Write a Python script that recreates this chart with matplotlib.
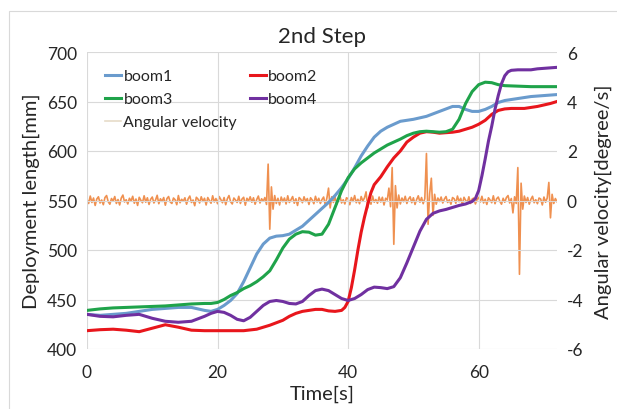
import matplotlib
matplotlib.use("Agg")
import matplotlib.pyplot as plt
from matplotlib.patches import Rectangle

plt.rcParams['font.family'] = ['Lato', 'DejaVu Sans']
plt.rcParams['axes.unicode_minus'] = False

# ---------------- data ----------------
t_boom1 = [0, 2, 4, 6, 8, 10, 12, 14, 16, 18, 19, 20, 21, 22, 23, 24, 25, 26, 27, 28, 29, 30, 31, 32, 33, 34, 35, 36,
           37, 38, 39, 40, 41, 42, 43, 44, 45, 46, 47, 48, 50, 52, 54, 56, 57, 58, 59, 60, 61, 62, 63, 64, 66, 68, 70, 72]
boom1 = [435, 434, 435, 436, 438, 440, 441, 442, 442, 439, 438, 440, 444, 449, 456, 468, 482, 496, 506, 512, 514,
         514.5, 516, 520, 524, 530, 536, 542, 548, 555, 563, 572, 583, 595, 605, 614, 620, 624, 627, 630, 632, 635,
         640, 645, 645, 642, 640, 640, 642, 645, 649, 651, 653, 655, 656, 657]

t_boom3 = [0, 2, 4, 6, 8, 10, 12, 14, 16, 18, 19, 20, 21, 22, 23, 24, 25, 26, 27, 28, 29, 30, 31, 32, 33, 34, 35, 36,
           37, 38, 39, 40, 41, 42, 43, 44, 45, 46, 47, 48, 49, 50, 51, 52, 53, 54, 55, 56, 57, 58, 59, 60, 61, 62, 63,
           64, 66, 68, 70, 72]
boom3 = [439, 440.5, 441.5, 442, 442.5, 443, 443.5, 444.5, 445.5, 446, 446, 447, 450, 454, 457, 461, 464, 468, 473,
         479, 490, 502, 511, 516, 518.5, 518, 515, 516, 526, 543, 560, 573, 582, 588, 593, 598, 602, 606, 609, 612,
         615.5, 618, 619.5, 620, 619.5, 619, 619.5, 622, 632, 648, 660, 667, 669.5, 669, 667, 666, 665.5, 665, 665, 665]

t_boom2 = [0, 2, 4, 6, 8, 10, 12, 14, 16, 18, 20, 22, 24, 26, 28, 29, 30, 31, 32, 33, 34, 35, 36, 37, 38, 39, 39.5,
           40, 40.5, 41, 41.5, 42, 42.5, 43, 43.5, 44, 45, 46, 47, 48, 49, 50, 51, 52, 53, 54, 55, 56, 57, 58, 59, 60,
           61, 62, 63, 64, 65, 66, 67, 68, 69, 70, 71, 72]
boom2 = [418.5, 419.5, 420, 419, 417.5, 421, 424.5, 422, 419, 418.5, 418.5, 418.5, 418.5, 420, 424, 426.5, 429, 433,
         436, 438, 439, 440, 440, 438.5, 438, 439, 442, 448, 462, 480, 500, 518, 533, 546, 558, 566, 574, 584, 593,
         600, 609, 614, 618, 619.5, 619, 618, 618.5, 619, 620, 622, 624, 627, 631, 637, 641, 642.5, 643, 643, 643,
         644, 645, 646.5, 648, 650]

t_boom4 = [0, 2, 4, 6, 8, 10, 12, 14, 16, 18, 19, 20, 21, 22, 23, 24, 25, 26, 27, 28, 29, 30, 31, 32, 33, 34, 35, 36,
           37, 38, 39, 40, 41, 42, 43, 44, 45, 46, 47, 48, 49, 50, 51, 52, 53, 54, 55, 56, 57, 58, 59, 59.5, 60, 60.5,
           61, 61.5, 62, 62.5, 63, 63.5, 64, 64.5, 65, 66, 67, 68, 69, 70, 71, 72]
boom4 = [435, 433, 432.5, 434, 435, 431, 428, 427, 428, 433, 436, 438, 437, 434, 430, 428.5, 432, 438, 444, 448, 449,
         448, 446, 445.5, 448, 454, 459, 460.5, 459, 455, 451, 449, 451, 455, 460, 462.5, 462, 461, 463, 472, 487,
         503, 519, 531, 537, 539.5, 541, 543, 545, 546.5, 549, 552, 560, 575, 592, 610, 625, 642, 656, 668, 676, 680,
         681.5, 682, 682, 682, 683, 683.5, 684, 684.5]

# angular velocity sampled every 0.25 s from 0 to 72 s
av_step = 0.25
angular_velocity = [
    0.05, -0.12, 0.18, -0.08, 0.10, -0.20, 0.06, 0.15, -0.10, 0.02, -0.17, 0.12, 0.20, -0.05, -0.15, 0.08, -0.02, 0.16, -0.12, 0.04,
    -0.18, 0.10, 0.22, -0.06, 0.03, -0.14, 0.09, -0.02, 0.17, -0.11, 0.06, -0.20, 0.13, 0.01, -0.09, 0.19, -0.07, 0.11, -0.16, 0.05,
    0.14, -0.10, 0.02, 0.21, -0.13, 0.07, -0.04, 0.12, -0.19, 0.08, 0.16, -0.06, -0.12, 0.10, 0.03, -0.17, 0.20, -0.09, 0.05, -0.03,
    0.11, -0.15, 0.07, 0.18, -0.08, 0.02, -0.21, 0.13, 0.06, -0.10, 0.15, -0.04, 0.09, -0.18, 0.12, 0.00, -0.11, 0.19, -0.06, 0.08,
    -0.13, 0.16, 0.04, -0.09, 0.12, -0.17, 0.07, 0.20, -0.05, -0.14, 0.10, 0.02, -0.08, 0.17, -0.12, 0.06, 0.13, -0.19, 0.09, -0.02,
    0.15, -0.07, 0.11, -0.15, 0.04, 0.18, -0.10, 0.07, -0.03, 0.12, -0.16, 1.47, -1.16, 0.55, -0.35, 0.20, -0.12, 0.09, -0.18, 0.14,
    -0.05, 0.10, -0.14, 0.19, -0.08, 0.03, 0.16, -0.11, 0.07, -0.20, 0.12, 0.05, -0.09, 0.15, -0.04, 0.08, -0.16, 0.11, 0.02, -0.13,
    0.17, -0.06, 0.09, -0.12, 0.04, 0.14, -0.18, 0.10, 0.50, -0.30, 0.15, -0.08, 0.13, -0.15, 0.06, 0.19, -0.10, 0.03, -0.14, 0.11,
    0.07, -0.17, 0.12, -0.04, 0.20, -0.09, 0.05, -0.13, 0.16, -0.02, 0.10, 0.35, -0.30, 0.08, -0.15, 0.18, -0.07, 0.04, -0.11, 0.14,
    -0.06, 0.13, -0.18, 0.09, 0.02, 0.50, -0.25, 1.33, -1.77, 0.60, -0.30, 0.22, -0.14, 0.10, -0.05, 0.17, -0.12, 0.06, 0.15, -0.09,
    0.11, -0.16, 0.04, 0.19, -0.07, 0.12, -0.13, 0.08, 1.90, -0.96, 0.30, 0.90, -0.60, 0.25, -0.15, 0.10, -0.04, 0.14, -0.10, 0.06,
    0.16, -0.08, 0.03, -0.15, 0.12, 0.07, -0.11, 0.18, -0.05, 0.09, -0.17, 0.13, 0.01, -0.08, 0.15, -0.12, 0.06, 0.10, -0.14, 0.04,
    0.13, -0.06, 0.17, -0.10, 0.05, -0.16, 0.11, 0.02, -0.09, 0.19, -0.13, 0.07, 0.14, -0.04, -0.15, 0.09, -0.07, 0.12, 0.20, -0.10,
    0.08, -0.50, 0.15, -0.12, 1.33, -2.98, 0.70, -0.35, 0.18, -0.08, 0.12, -0.15, 0.05, 0.17, -0.09, 0.03, -0.13, 0.10, 0.06, -0.18,
    0.14, -0.07, 0.10, 0.73, -0.70, 0.25, -0.12, 0.08, -0.05,
]
t_av = [i * av_step for i in range(len(angular_velocity))]

x_ticks = [0, 20, 40, 60]
y_left_ticks = [400, 450, 500, 550, 600, 650, 700]
y_right_ticks = [-6, -4, -2, 0, 2, 4, 6]

# ---------------- figure ----------------
fig = plt.figure(figsize=(6.17, 4.10), dpi=100)
fig.patches.append(Rectangle((9 / 617, -0.01), 1.0, 0.9707 + 0.01, transform=fig.transFigure,
                             fill=False, edgecolor='#D9D9D9', linewidth=0.8, zorder=0))

ax = fig.add_axes([87 / 617, 1 - 350 / 410, (557 - 87) / 617, (350 - 53) / 410])
ax2 = ax.twinx()

grid_c = '#D9D9D9'
txt_c = '#262626'

h_av, = ax2.plot(t_av, angular_velocity, color='#ED7D31', lw=1.2, alpha=0.85, label='Angular velocity')
h1, = ax.plot(t_boom1, boom1, color='#6A9BCD', lw=2.2, label='boom1')
h2, = ax.plot(t_boom2, boom2, color='#E8161C', lw=2.2, label='boom2')
h3, = ax.plot(t_boom3, boom3, color='#1FA34A', lw=2.2, label='boom3')
h4, = ax.plot(t_boom4, boom4, color='#7030A0', lw=2.2, label='boom4')

# draw boom lines above the angular velocity axis
ax.set_zorder(ax2.get_zorder() + 1)
ax.patch.set_visible(False)

ax.set_xlim(0, 72)
ax.set_ylim(400, 700)
ax2.set_ylim(-6, 6)
ax.set_xticks(x_ticks)
ax.set_yticks(y_left_ticks)
ax2.set_yticks(y_right_ticks)

ax.grid(True, color=grid_c, lw=0.8)
ax.set_axisbelow(True)
for a in (ax, ax2):
    for s in a.spines.values():
        s.set_visible(False)
    a.tick_params(length=0, labelsize=12.5, colors=txt_c, pad=7)
ax.tick_params(axis='x', pad=11)

ax.set_xlabel('Time[s]', fontsize=14.5, color=txt_c, labelpad=3)
ax.set_ylabel('Deployment length[mm]', fontsize=14.5, color=txt_c, labelpad=5)
ax2.set_ylabel('Angular velocity[degree/s]', fontsize=14.5, color=txt_c, labelpad=8)
ax.set_title('2nd Step', fontsize=16, color=txt_c, pad=7)

leg_av = plt.Line2D([], [], color='#E6DCC8', lw=1.2)
leg = ax.legend([h1, h3, leg_av, h2, h4], ['boom1', 'boom3', 'Angular velocity', 'boom2', 'boom4'],
                ncol=2, loc='upper left', bbox_to_anchor=(0.018, 0.975), frameon=False,
                fontsize=11.5, handlelength=1.0, handletextpad=0.15, columnspacing=0.8,
                labelspacing=0.55, borderaxespad=0.2)
for t in leg.get_texts():
    t.set_color(txt_c)

fig.savefig('out.png', dpi=100)
